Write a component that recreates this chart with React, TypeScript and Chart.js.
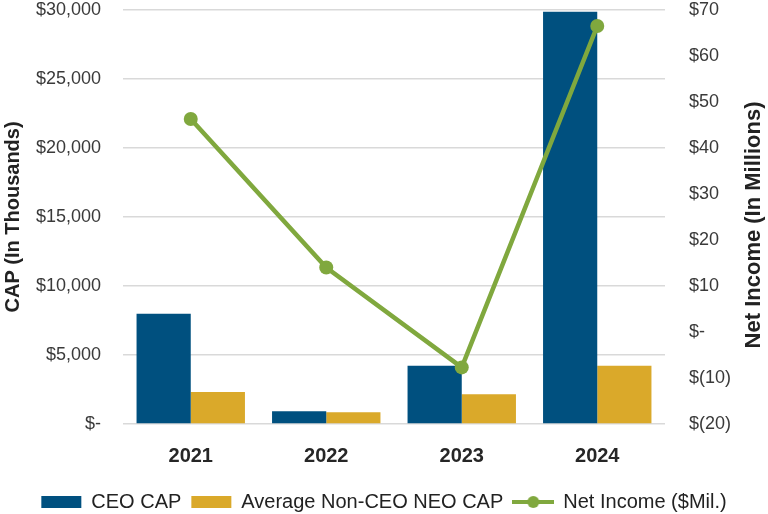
import React, { useEffect, useRef } from "react";
import { Chart, registerables } from "chart.js";

Chart.register(...registerables);

const categories = ["2021", "2022", "2023", "2024"];
const ceoCap = [7990, 920, 4225, 29860];
const avgNeoCap = [2320, 850, 2150, 4225];
const netIncome = [46.3, 14.0, -7.7, 66.5];
const seriesNames = ["CEO CAP", "Average Non-CEO NEO CAP", "Net Income ($Mil.)"];
const leftTitle = "CAP (In Thousands)";
const rightTitle = "Net Income (In Millions)";

const BLUE = "#00507F";
const GOLD = "#DAA92A";
const GREEN = "#80A83E";
const FONT = '"Liberation Sans", Arial, sans-serif';

function fmtLeft(v: number) {
  if (v === 0) return "$-";
  return "$" + v.toLocaleString("en-US");
}
function fmtRight(v: number) {
  if (v === 0) return "$-";
  if (v < 0) return "$(" + Math.abs(v) + ")";
  return "$" + v;
}

export default function App() {
  const ref = useRef<HTMLCanvasElement | null>(null);

  useEffect(() => {
    document.body.style.margin = "0";
    document.body.style.overflow = "hidden";
    const canvas = ref.current;
    if (!canvas) return;

    const lineIcon = document.createElement("canvas");
    lineIcon.width = 42;
    lineIcon.height = 14;
    const ictx = lineIcon.getContext("2d")!;
    ictx.strokeStyle = GREEN;
    ictx.lineWidth = 4;
    ictx.beginPath();
    ictx.moveTo(0, 7);
    ictx.lineTo(42, 7);
    ictx.stroke();
    ictx.fillStyle = GREEN;
    ictx.beginPath();
    ictx.arc(21, 7, 6, 0, Math.PI * 2);
    ictx.fill();

    const rightTitlePlugin = {
      id: "rightTitle",
      afterDraw(chart: any) {
        const { ctx, chartArea } = chart;
        ctx.save();
        ctx.translate(chart.width - 14, (chartArea.top + chartArea.bottom) / 2 + 8);
        ctx.rotate(-Math.PI / 2);
        ctx.font = "bold 22px " + FONT;
        ctx.fillStyle = "#222222";
        ctx.textAlign = "center";
        ctx.textBaseline = "middle";
        ctx.fillText(rightTitle, 0, 0);
        ctx.restore();
      },
    };

    const chart = new Chart(canvas, {
      type: "bar",
      data: {
        labels: categories,
        datasets: [
          {
            type: "bar",
            label: seriesNames[0],
            data: ceoCap,
            backgroundColor: BLUE,
            borderWidth: 0,
            yAxisID: "y",
            order: 1,
            categoryPercentage: 0.8,
            barPercentage: 1.0,
          },
          {
            type: "bar",
            label: seriesNames[1],
            data: avgNeoCap,
            backgroundColor: GOLD,
            borderWidth: 0,
            yAxisID: "y",
            order: 1,
            categoryPercentage: 0.8,
            barPercentage: 1.0,
          },
          {
            type: "line",
            label: seriesNames[2],
            data: netIncome,
            borderColor: GREEN,
            backgroundColor: GREEN,
            borderWidth: 4.5,
            pointRadius: 7,
            pointHoverRadius: 7,
            pointBackgroundColor: GREEN,
            pointBorderWidth: 0,
            tension: 0,
            yAxisID: "y1",
            order: 0,
          } as any,
        ],
      },
      options: {
        animation: false,
        responsive: false,
        maintainAspectRatio: false,
        layout: { padding: { left: 0, right: 0, top: 0, bottom: -8 } },
        plugins: {
          tooltip: { enabled: false },
          legend: {
            position: "bottom",
            labels: {
              usePointStyle: true,
              pointStyleWidth: 40,
              boxHeight: 12,
              padding: 10,
              color: "#222222",
              font: { family: FONT, size: 20 },
              sort: (a: any, b: any) => a.datasetIndex - b.datasetIndex,
              generateLabels: (ch: any) => {
                const items = Chart.defaults.plugins.legend.labels.generateLabels(ch);
                items.forEach((it: any) => {
                  if (it.datasetIndex === 2) {
                    it.pointStyle = lineIcon;
                  } else {
                    it.pointStyle = "rect";
                    it.lineWidth = 0;
                    it.strokeStyle = "rgba(0,0,0,0)";
                  }
                });
                return items;
              },
            },
          },
        },
        scales: {
          x: {
            grid: { display: false },
            border: { display: false },
            ticks: {
              color: "#262626",
              font: { family: FONT, size: 20, weight: "bold" },
              padding: 12,
            },
            afterFit: (s: any) => {
              s.height = 58;
            },
          },
          y: {
            position: "left",
            min: 0,
            max: 30000,
            grid: {
              color: "#D9D9D9",
              lineWidth: 1.5,
              drawTicks: true,
              tickLength: 22,
              tickColor: "rgba(0,0,0,0)",
            },
            border: { display: false },
            ticks: {
              stepSize: 5000,
              color: "#3A3A3A",
              font: { family: FONT, size: 18, lineHeight: 1.1 },
              padding: 0,
              callback: (v: any) => fmtLeft(Number(v)),
            },
            title: {
              display: true,
              text: leftTitle,
              color: "#222222",
              font: { family: FONT, size: 20, weight: "bold" },
              padding: { top: 1, bottom: 0 },
            },
            afterFit: (s: any) => {
              s.width = 123;
            },
          },
          y1: {
            position: "right",
            min: -20,
            max: 70,
            grid: {
              display: true,
              drawOnChartArea: false,
              drawTicks: true,
              tickLength: 24,
              tickColor: "rgba(0,0,0,0)",
            },
            border: { display: false },
            ticks: {
              stepSize: 10,
              color: "#3A3A3A",
              font: { family: FONT, size: 18, lineHeight: 1.1 },
              padding: 0,
              callback: (v: any) => fmtRight(Number(v)),
            },
            afterFit: (s: any) => {
              s.width = 103;
            },
          },
        },
      },
      plugins: [rightTitlePlugin],
    });

    return () => chart.destroy();
  }, []);

  return (
    <div style={{ width: 768, height: 514 }}>
      <canvas ref={ref} width={768} height={514} style={{ display: "block", width: 768, height: 514 }} />
    </div>
  );
}
